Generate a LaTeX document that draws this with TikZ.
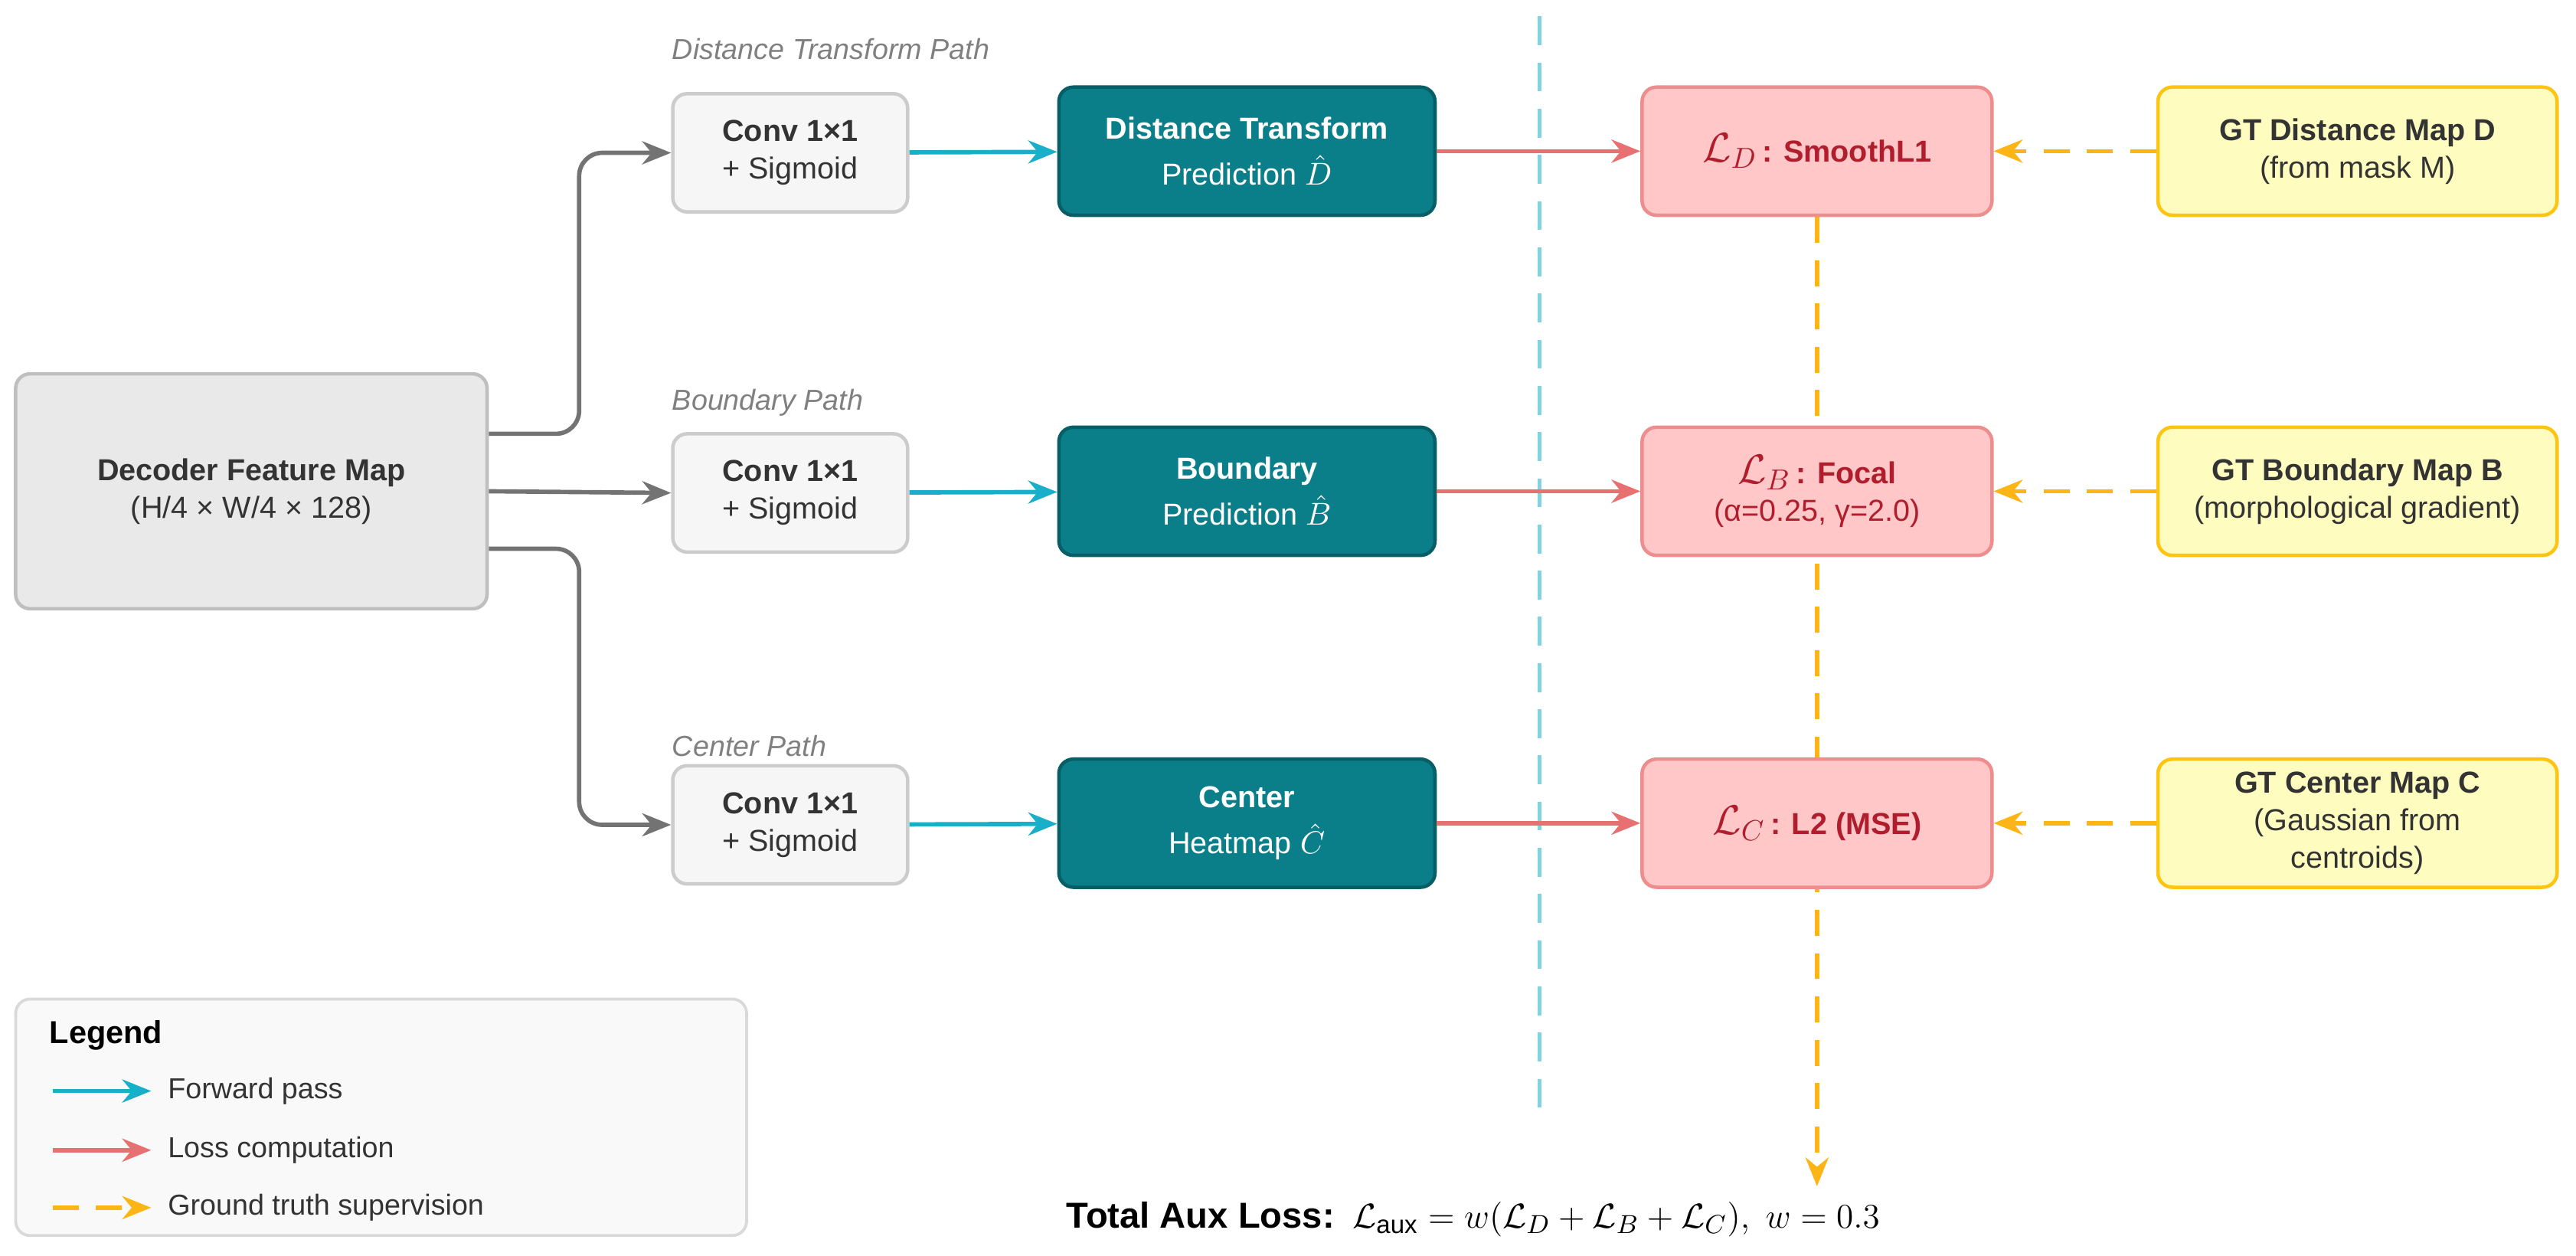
\documentclass[tikz,border=0pt]{standalone}
\usepackage{fontspec}
\setmainfont{Liberation Sans}
\usetikzlibrary{positioning,arrows,arrows.meta,backgrounds}
\definecolor{tealfill}{HTML}{0B7F89}
\definecolor{tealdraw}{HTML}{085E66}
\definecolor{fwd}{HTML}{1AAFC8}
\definecolor{lossc}{HTML}{E87070}
\definecolor{gtc}{HTML}{FDB515}
\definecolor{losstext}{HTML}{B01E2D}
\definecolor{txt}{HTML}{333333}
\begin{document}
\begin{tikzpicture}[x=0.02cm, y=-0.02cm, >={Stealth[length=10pt,width=8pt]}, text=txt,
    box/.style={rectangle, draw, rounded corners=5pt, line width=1.2pt, align=center,
                font=\fontsize{10.5}{13}\selectfont},
    feat/.style={box, fill=gray!17, draw=gray!50, minimum width=5.74cm, minimum height=2.86cm},
    conv/.style={box, fill=gray!7, draw=gray!40, minimum width=2.86cm, minimum height=1.44cm},
    pred/.style={box, fill=tealfill, draw=tealdraw, text=white, minimum width=4.58cm, minimum height=1.56cm},
    loss/.style={box, fill=red!22, draw=lossc!80, text=losstext, minimum width=4.26cm, minimum height=1.56cm},
    gt/.style={box, fill=yellow!25, draw=gtc!80!yellow, minimum width=4.86cm, minimum height=1.56cm},
    path/.style={anchor=west, text=gray, font=\fontsize{10}{11}\selectfont\itshape},
    garrow/.style={->, gray!110, line width=1.5pt, rounded corners=8pt},
    farrow/.style={->, fwd, line width=1.5pt},
    larrow/.style={->, lossc, line width=1.5pt},
    tarrow/.style={->, gtc, line width=1.5pt, dash pattern=on 9pt off 6pt}]
  \useasboundingbox (0,0) rectangle (1568,764);

  \node[feat] (feat) at (153,299) {\textbf{Decoder Feature Map}\\(H/4 × W/4 × 128)};

  \node[conv] (convD) at (481,93) {\textbf{Conv 1×1}\\+ Sigmoid};
  \node[conv] (convB) at (481,300) {\textbf{Conv 1×1}\\+ Sigmoid};
  \node[conv] (convC) at (481,502) {\textbf{Conv 1×1}\\+ Sigmoid};
  \node[path] (pathD) at (403,30) {Distance Transform Path};
  \node[path] (pathB) at (403,245) {Boundary Path};
  \node[path] (pathC) at (403,454) {Center Path};

  \node[pred] (predD) at (759,92) {\textbf{Distance Transform}\\[3pt]Prediction $\hat{D}$};
  \node[pred] (predB) at (759,299) {\textbf{Boundary}\\[3pt]Prediction $\hat{B}$};
  \node[pred] (predC) at (759,501) {\textbf{Center}\\[3pt]Heatmap $\hat{C}$};

  \node[loss] (lossD) at (1106,92) {{\Large$\mathcal{L}_D$}\,\textbf{: SmoothL1}};
  \node[loss] (lossB) at (1106,299) {{\Large$\mathcal{L}_B$}\,\textbf{: Focal}\\(α=0.25, γ=2.0)};
  \node[loss] (lossC) at (1106,501) {{\Large$\mathcal{L}_C$}\,\textbf{: L2 (MSE)}};

  \node[gt] (gtD) at (1435,92) {\textbf{GT Distance Map D}\\(from mask M)};
  \node[gt] (gtB) at (1435,299) {\textbf{GT Boundary Map B}\\(morphological gradient)};
  \node[gt] (gtC) at (1435,501) {\textbf{GT Center Map C}\\(Gaussian from\\centroids)};

  \node[anchor=west, text=black, font=\fontsize{12.5}{14}\selectfont] (total) at (643,742)
    {\textbf{Total Aux Loss:}\enspace $\mathcal{L}_{\mathrm{aux}} = w(\mathcal{L}_D+\mathcal{L}_B+\mathcal{L}_C),\ w=0.3$};

  % separator
  \coordinate (sepTop) at (937,10);
  \coordinate (sepBot) at (937,683);
  \draw[fwd!55, line width=1.3pt, dash pattern=on 10pt off 6pt] (sepTop) -- (sepBot);

  \draw[garrow] ([yshift=0.7cm]feat.east) -- ++(55,0) |- (convD.west);
  \draw[garrow] (feat.east) -- (convB.west);
  \draw[garrow] ([yshift=-0.7cm]feat.east) -- ++(55,0) |- (convC.west);

  \draw[farrow] (convD) -- (predD);
  \draw[farrow] (convB) -- (predB);
  \draw[farrow] (convC) -- (predC);

  \draw[larrow] (predD) -- (lossD);
  \draw[larrow] (predB) -- (lossB);
  \draw[larrow] (predC) -- (lossC);

  \draw[tarrow] (gtD) -- (lossD);
  \draw[tarrow] (gtB) -- (lossB);
  \draw[tarrow] (gtC) -- (lossC);
  \begin{scope}[on background layer]
    \coordinate (totTop) at (1106,722);
    \draw[tarrow] (lossD.south) -- (totTop);
  \end{scope}

  % legend
  \node[draw=gray!30, fill=gray!5, rounded corners=5pt, line width=1pt,
        minimum width=8.9cm, minimum height=2.88cm] (legend) at (232,680) {};
  \node[anchor=west, text=black, font=\fontsize{11}{12}\selectfont\bfseries] (legTitle) at (24,630) {Legend};
  \coordinate (fwdA) at (32,664);  \coordinate (fwdB) at (92,664);
  \coordinate (lossA) at (32,700); \coordinate (lossB2) at (92,700);
  \coordinate (gtA) at (32,735);   \coordinate (gtB2) at (92,735);
  \draw[farrow] (fwdA) -- (fwdB);
  \draw[larrow] (lossA) -- (lossB2);
  \draw[tarrow] (gtA) -- (gtB2);
  \node[anchor=west, font=\fontsize{10}{11}\selectfont] (legF) at (96,664) {Forward pass};
  \node[anchor=west, font=\fontsize{10}{11}\selectfont] (legL) at (96,700) {Loss computation};
  \node[anchor=west, font=\fontsize{10}{11}\selectfont] (legG) at (96,735) {Ground truth supervision};
\end{tikzpicture}
\end{document}
